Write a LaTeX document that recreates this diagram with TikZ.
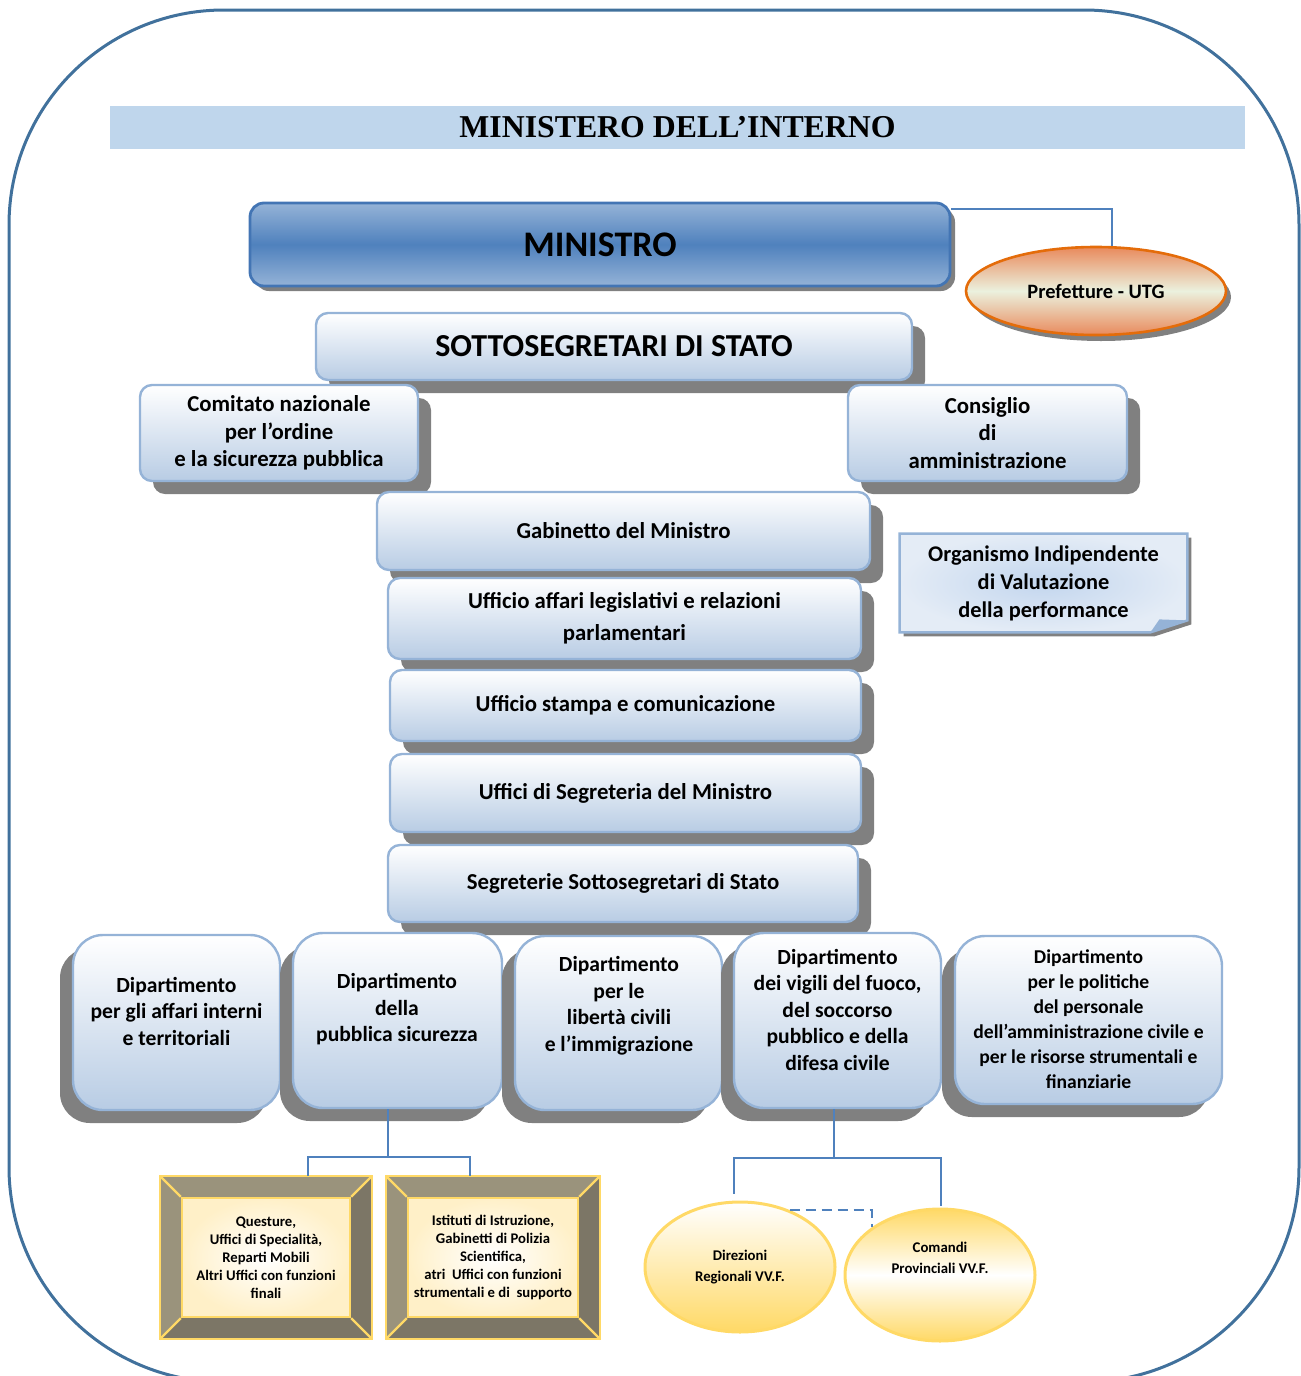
\documentclass[tikz,border=0pt]{standalone}
\usepackage{tikz}
\usepackage{xcolor}
\usepackage{fontspec}
\setmainfont{Carlito}
\newfontfamily\titlefont{Liberation Serif}
\usetikzlibrary{shapes.geometric, shadows, backgrounds}
\definecolor{framecolor}{HTML}{41719C}
\definecolor{bandcolor}{HTML}{BFD6EC}
\definecolor{boxline}{HTML}{95B3D7}
\definecolor{boxblue}{HTML}{B8CCE4}
\definecolor{ministrodark}{HTML}{4F81BD}
\definecolor{ministrolite}{HTML}{95B3D7}
\definecolor{ministroline}{HTML}{4375B4}
\definecolor{linkcolor}{HTML}{4F81BD}
\definecolor{prefline}{HTML}{E46C0A}
\definecolor{prefshade}{HTML}{E98A5C}
\definecolor{prefcentre}{HTML}{EBF1DE}
\definecolor{notefill}{HTML}{E4ECF6}
\definecolor{notecentre}{HTML}{C3D6EE}
\definecolor{goldline}{HTML}{FFD966}
\definecolor{creamfill}{HTML}{FFF0C8}
\definecolor{framelite}{HTML}{9A937C}
\definecolor{framedark}{HTML}{7C7666}
\newcommand{\shadowcolor}{black!50}
\newcommand{\bev}{21}

% bevelled frame round a box node
\newcommand{\bevelframe}[1]{%
    \coordinate (#1-onw) at ([shift={(-\bev,-\bev)}]#1.north west);
    \coordinate (#1-one) at ([shift={(\bev,-\bev)}]#1.north east);
    \coordinate (#1-ose) at ([shift={(\bev,\bev)}]#1.south east);
    \coordinate (#1-osw) at ([shift={(-\bev,\bev)}]#1.south west);
    \fill[framelite] (#1-onw) -- (#1-one) -- (#1.north east) -- (#1.north west) -- cycle;
    \fill[framelite] (#1-onw) -- (#1.north west) -- (#1.south west) -- (#1-osw) -- cycle;
    \fill[framedark] (#1-one) -- (#1-ose) -- (#1.south east) -- (#1.north east) -- cycle;
    \fill[framedark] (#1-osw) -- (#1.south west) -- (#1.south east) -- (#1-ose) -- cycle;
    \draw[goldedge] (#1-onw) rectangle (#1-ose);
    \draw[goldedge] (#1-onw) -- (#1.north west) (#1-one) -- (#1.north east)
        (#1-ose) -- (#1.south east) (#1-osw) -- (#1.south west);
}

\begin{document}
\begin{tikzpicture}[x=0.5pt, y=-0.5pt,
    lightbox/.style={rectangle, rounded corners=6pt, draw=boxline, line width=1.2pt,
        top color=white, bottom color=boxblue, align=center, inner sep=2pt,
        font=\bfseries\fontsize{11.4}{13.75}\selectfont},
    rightshadow/.style={drop shadow={shadow xshift=6.5pt, shadow yshift=-6.5pt, fill=\shadowcolor, opacity=1}},
    leftshadow/.style={drop shadow={shadow xshift=-6.5pt, shadow yshift=-6.5pt, fill=\shadowcolor, opacity=1}},
    deptbox/.style={lightbox, rounded corners=15pt, leftshadow},
    depttext/.style={align=center, inner sep=1pt, font=\bfseries\fontsize{10.8}{13.25}\selectfont},
    ministrobox/.style={rectangle, rounded corners=7pt, draw=ministroline, line width=1.4pt,
        top color=ministrolite, bottom color=ministrolite, middle color=ministrodark,
        font=\bfseries\fontsize{18}{21}\selectfont,
        drop shadow={shadow xshift=2.5pt, shadow yshift=-2.5pt, fill=\shadowcolor, opacity=1}},
    prefoval/.style={ellipse, draw=prefline, line width=1.3pt, minimum width=130pt, minimum height=44pt,
        inner sep=0pt, top color=prefshade, bottom color=prefshade, middle color=prefcentre,
        font=\bfseries\fontsize{10.2}{12}\selectfont,
        drop shadow={shadow xshift=2.5pt, shadow yshift=-3pt, fill=\shadowcolor, opacity=1}},
    titleband/.style={fill=bandcolor, minimum width=567.5pt, minimum height=21.5pt, inner sep=0pt,
        font=\titlefont\bfseries\fontsize{15.9}{19}\selectfont},
    notetext/.style={align=center, inner sep=1pt, font=\bfseries\fontsize{11.2}{14}\selectfont},
    bevelbox/.style={rectangle, draw=goldline, line width=1.2pt, inner color=white, outer color=creamfill,
        inner sep=1pt, align=center, font=\bfseries\fontsize{7.35}{9}\selectfont},
    goldedge/.style={draw=goldline, line width=1.2pt},
    vvfoval/.style={ellipse, draw=goldline, line width=1.5pt, minimum width=95pt, inner sep=0pt},
    ovaltext/.style={align=center, inner sep=1pt, font=\bfseries\fontsize{7.4}{10.5}\selectfont},
    conn/.style={draw=linkcolor, line width=1.2pt}]
    \useasboundingbox (0,0) rectangle (1301,1376);

    % frame and title
    \draw[framecolor, line width=1.5pt, rounded corners=107.5pt] (9,10) rectangle (1299,1382);
    \node[titleband] (title) at (677.5,127.5) {MINISTERO DELL’INTERNO};

    % ministro
    \node[ministrobox, minimum width=350pt, minimum height=41.5pt] (ministro) at (600,244.5) {MINISTRO};
    \node[prefoval] (prefetture) at (1096,291) {Prefetture - UTG};
    \node[lightbox, rightshadow, minimum width=298pt, minimum height=33.5pt,
        font=\bfseries\fontsize{16}{19}\selectfont] (sottosegretari) at (614,346.5) {SOTTOSEGRETARI DI STATO};
    \node[lightbox, rightshadow, minimum width=139pt, minimum height=48pt] (comitato) at (279,433)
        {Comitato nazionale\\per l’ordine\\e la sicurezza pubblica};
    \node[lightbox, rightshadow, minimum width=139.5pt, minimum height=48pt] (consiglio) at (987.5,433)
        {Consiglio\\di\\amministrazione};

    % uffici
    \node[lightbox, rightshadow, minimum width=246.5pt, minimum height=39pt] (gabinetto) at (623.5,531) {Gabinetto del Ministro};
    \node[lightbox, rightshadow, minimum width=236.5pt, minimum height=40.5pt] (legislativo) at (624.5,618.5)
        {Ufficio affari legislativi e relazioni\\[2.25pt]parlamentari};
    \node[lightbox, rightshadow, minimum width=235.5pt, minimum height=35.5pt] (stampa) at (625.5,705.5) {Ufficio stampa e comunicazione};
    \node[lightbox, rightshadow, minimum width=235.5pt, minimum height=39pt] (segreteria) at (625.5,793) {Uffici di Segreteria del Ministro};
    \node[lightbox, rightshadow, minimum width=235pt, minimum height=38.5pt] (segreterie) at (623,883.5) {Segreterie Sottosegretari di Stato};

    % note
    \node[notetext, minimum width=143.5pt, minimum height=49pt] (oiv) at (1043.5,583)
        {Organismo Indipendente\\di Valutazione\\della performance};
    \begin{scope}[on background layer]
        \fill[\shadowcolor, transform canvas={xshift=2pt, yshift=-2pt}] (oiv.north west) -- (oiv.north east)
            -- ([shift={(0,-12)}]oiv.south east) -- ([shift={(-37,0)}]oiv.south east) -- (oiv.south west) -- cycle;
        \shade[draw=boxline, line width=1.2pt, inner color=notecentre, outer color=notefill] (oiv.north west) -- (oiv.north east)
            -- ([shift={(0,-12)}]oiv.south east) -- ([shift={(-37,0)}]oiv.south east) -- (oiv.south west) -- cycle;
        \fill[boxline] ([shift={(-37,0)}]oiv.south east) -- ([shift={(0,-12)}]oiv.south east)
            -- ([shift={(-28,-13)}]oiv.south east) -- cycle;
    \end{scope}

    % dipartimenti
    \node[deptbox, minimum width=103.5pt, minimum height=87.5pt] (interni) at (176.5,1022.5) {};
    \node[depttext] (internitxt) at (176.5,1011) {Dipartimento\\per gli affari interni\\e territoriali};
    \node[deptbox, minimum width=104.5pt, minimum height=87.5pt] (sicurezza) at (397.5,1020.5) {};
    \node[depttext] (sicurezzatxt) at (397,1009.5) {Dipartimento\\della\\pubblica sicurezza};
    \node[deptbox, minimum width=103.5pt, minimum height=87pt] (liberta) at (618.5,1023) {};
    \node[depttext] (libertatxt) at (619,1005.5) {Dipartimento\\per le\\libertà civili\\e l’immigrazione};
    \node[deptbox, minimum width=103.5pt, minimum height=87.5pt] (vigili) at (837.5,1020.5) {};
    \node[depttext] (vigilitxt) at (837.5,1009.5) {Dipartimento\\dei vigili del fuoco,\\del soccorso\\pubblico e della\\difesa civile};
    \node[deptbox, minimum width=133.5pt, minimum height=84pt] (personale) at (1088.5,1020) {};
    \node[depttext, font=\bfseries\fontsize{9.8}{12.5}\selectfont] (personaletxt) at (1088.5,1019.5)
        {Dipartimento\\per le politiche\\del personale\\dell’amministrazione civile e\\per le risorse strumentali e\\finanziarie};

    % uffici territoriali
    \node[bevelbox, minimum width=84pt, minimum height=59.5pt] (questure) at (266,1257.5)
        {Questure,\\Uffici di Specialità,\\Reparti Mobili\\Altri Uffici con funzioni\\finali};
    \bevelframe{questure}
    \node[bevelbox, minimum width=85pt, minimum height=59.5pt] (istituti) at (493,1257.5)
        {Istituti di Istruzione,\\Gabinetti di Polizia\\Scientifica,\\atri\ \ Uffici con funzioni\\strumentali e di\ \ supporto};
    \bevelframe{istituti}
    \node[vvfoval, minimum height=65pt, top color=white, bottom color=goldline] (direzioni) at (740,1267) {};
    \node[ovaltext] (direzionitxt) at (740,1267.5) {Direzioni\\Regionali VV.F.};
    \node[vvfoval, minimum height=66pt, top color=goldline, bottom color=goldline, middle color=white] (comandi) at (940,1275) {};
    \node[ovaltext] (comanditxt) at (940,1257.5) {Comandi\\Provinciali VV.F.};

    % connectors
    \draw[conn, line width=0.9pt] ([shift={(0,7)}]ministro.north east) -| ([shift={(16,0)}]prefetture.north);
    \coordinate (sicurezzafork) at (388,1157);
    \draw[conn] (sicurezza.south -| sicurezzafork) -- (sicurezzafork);
    \draw[conn] ([shift={(42,-21)}]questure.north) |- (sicurezzafork) -| ([shift={(-23,-21)}]istituti.north);
    \coordinate (vigilifork) at (834,1158);
    \draw[conn] (vigili.south -| vigilifork) -- (vigilifork);
    \draw[conn] ([shift={(-6,-7)}]direzioni.north) |- (vigilifork) -| ([shift={(1,-2)}]comandi.north);
    \draw[conn, line width=1pt, dash pattern=on 5pt off 3pt] (direzioni.49) -| (comandi.north west);
\end{tikzpicture}
\end{document}
